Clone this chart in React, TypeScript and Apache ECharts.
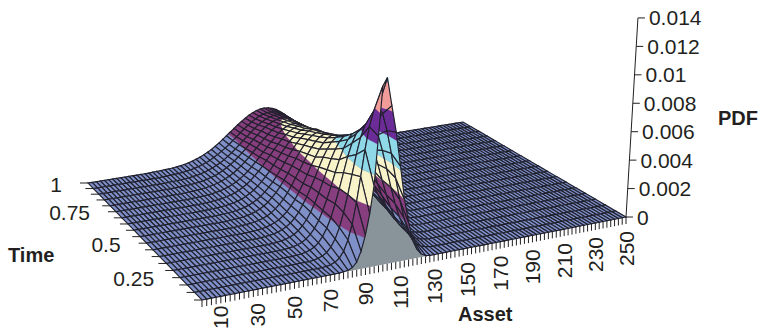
import React, { useEffect, useRef } from "react";
import * as echarts from "echarts";

// Data
const assetStep = 2.5;
const assetCount = 101; // 0 .. 250
const rowTimes = [0.1, 0.15, 0.2, 0.25, 0.3, 0.35, 0.4, 0.45, 0.5, 0.55, 0.6, 0.65, 0.7, 0.75, 0.8, 0.85, 0.9, 0.95, 1];
const pdfUnit = 1e-5;
// index of the first non-zero asset in each time row
const rowStarts = [31, 29, 28, 26, 25, 24, 23, 22, 21, 21, 20, 19, 19, 18, 18, 17, 17, 17, 16];
const rowValues = [
  [3, 8, 20, 50, 115, 215, 350, 530, 850, 1180, 1230, 1040, 860, 630, 400, 240, 120, 55, 20, 5],
  [3, 8, 19, 41, 81, 150, 249, 388, 554, 729, 877, 978, 1002, 951, 833, 676, 506, 356, 229, 136, 74, 38, 18, 8, 3],
  [4, 10, 20, 38, 69, 117, 188, 283, 398, 528, 657, 767, 843, 870, 843, 767, 657, 528, 398, 283, 188, 117, 69, 38, 20, 10, 4],
  [2, 5, 10, 19, 34, 58, 95, 146, 213, 300, 397, 500, 605, 690, 750, 777, 764, 710, 622, 519, 406, 300, 209, 138, 86, 51, 29, 15, 7, 3],
  [2, 5, 9, 16, 27, 44, 70, 106, 153, 217, 289, 371, 461, 544, 617, 672, 705, 707, 675, 611, 528, 431, 333, 249, 173, 114, 72, 44, 25, 13, 7, 3],
  [2, 4, 8, 14, 23, 36, 56, 84, 121, 168, 223, 290, 363, 439, 511, 572, 621, 651, 657, 638, 592, 526, 449, 367, 286, 214, 153, 104, 69, 43, 26, 15, 8, 4, 2],
  [2, 4, 7, 12, 19, 30, 45, 66, 93, 130, 177, 228, 288, 350, 418, 482, 534, 578, 605, 615, 603, 568, 514, 450, 377, 303, 234, 173, 124, 87, 57, 36, 22, 13, 7, 4, 2],
  [2, 3, 5, 9, 14, 23, 34, 49, 71, 97, 132, 171, 220, 272, 330, 390, 444, 495, 534, 564, 578, 576, 554, 514, 459, 397, 330, 265, 206, 153, 111, 78, 52, 33, 21, 13, 8, 4, 2],
  [2, 3, 5, 8, 12, 18, 27, 39, 56, 78, 105, 136, 176, 221, 271, 320, 373, 425, 468, 506, 533, 548, 549, 533, 502, 454, 399, 340, 281, 224, 173, 130, 94, 64, 44, 29, 18, 11, 7, 4, 2],
  [2, 4, 6, 10, 15, 23, 31, 45, 61, 83, 110, 141, 178, 219, 264, 312, 359, 405, 445, 480, 505, 520, 524, 512, 487, 448, 401, 349, 292, 240, 191, 146, 110, 80, 56, 38, 25, 16, 10, 6, 4, 2],
  [2, 3, 5, 7, 11, 17, 24, 33, 47, 63, 82, 108, 138, 170, 210, 250, 295, 338, 379, 419, 452, 477, 495, 502, 498, 480, 449, 412, 364, 314, 265, 216, 170, 133, 99, 72, 52, 36, 24, 16, 10, 6, 4, 2],
  [2, 3, 4, 6, 9, 13, 19, 26, 36, 49, 66, 85, 110, 137, 168, 203, 241, 281, 320, 357, 392, 422, 447, 464, 471, 470, 457, 432, 399, 359, 315, 270, 221, 179, 142, 110, 82, 60, 43, 29, 20, 13, 9, 5, 3, 2],
  [2, 3, 5, 8, 11, 15, 21, 29, 39, 52, 69, 87, 110, 138, 167, 199, 236, 271, 307, 342, 374, 402, 424, 441, 450, 450, 440, 420, 392, 355, 317, 274, 230, 191, 153, 120, 92, 69, 50, 36, 25, 17, 12, 7, 5, 3, 2],
  [2, 3, 4, 6, 8, 11, 16, 22, 30, 40, 53, 68, 86, 106, 131, 159, 190, 222, 253, 286, 320, 351, 377, 400, 416, 426, 430, 425, 411, 389, 357, 322, 285, 245, 207, 171, 135, 106, 82, 62, 46, 33, 23, 15, 11, 7, 5, 3, 2],
  [2, 3, 5, 7, 9, 12, 18, 24, 32, 42, 55, 69, 86, 108, 130, 156, 184, 215, 245, 275, 306, 333, 360, 380, 397, 407, 412, 409, 399, 379, 352, 320, 287, 250, 212, 179, 146, 116, 91, 70, 52, 38, 28, 19, 13, 9, 6, 4, 3, 2],
  [2, 3, 4, 5, 7, 10, 14, 19, 25, 34, 43, 55, 70, 87, 107, 128, 153, 179, 206, 237, 266, 294, 320, 344, 363, 379, 389, 395, 393, 385, 369, 347, 318, 286, 254, 218, 185, 154, 126, 99, 79, 60, 44, 33, 23, 17, 11, 7, 6, 4, 3, 2],
  [2, 3, 4, 6, 7, 10, 15, 19, 26, 33, 43, 55, 69, 83, 102, 123, 146, 170, 197, 223, 249, 276, 301, 325, 344, 360, 372, 378, 380, 375, 362, 345, 321, 294, 262, 231, 198, 168, 139, 112, 91, 71, 55, 41, 31, 21, 16, 10, 8, 6, 4, 3, 2],
  [2, 3, 5, 6, 8, 11, 16, 20, 27, 35, 44, 55, 68, 85, 102, 122, 142, 165, 190, 214, 241, 265, 289, 310, 329, 345, 356, 363, 365, 361, 352, 335, 315, 289, 262, 233, 203, 174, 147, 120, 98, 78, 61, 46, 35, 26, 19, 14, 9, 6, 5, 3, 2],
  [2, 3, 4, 6, 7, 9, 13, 17, 22, 29, 37, 47, 58, 71, 86, 102, 122, 142, 166, 189, 213, 236, 260, 282, 302, 321, 336, 348, 355, 358, 356, 348, 335, 316, 294, 268, 241, 210, 182, 155, 131, 108, 87, 69, 53, 41, 31, 23, 17, 12, 8, 6, 4, 3, 2],
];
const assetLabels = [10, 30, 50, 70, 90, 110, 130, 150, 170, 190, 210, 230, 250];
const timeLabels = ["0.25", "0.5", "0.75", "1"];
const pdfLabels = ["0", "0.002", "0.004", "0.006", "0.008", "0.01", "0.012", "0.014"];
const bandEdges = [0, 0.002, 0.004, 0.006, 0.008, 0.01, 0.012, 0.014];
const bandColors = ["#7f90c9", "#873e7e", "#f8f3c8", "#8fd8e8", "#6c2c98", "#f19c98", "#0f80a8"];

const W = 760;
const H = 330;
const FONT = "'Liberation Sans', Arial, sans-serif";
const INK = "#231f20";
const LINE = "#20202c";
const minAsset = 0;
const maxAsset = 250;
const minTime = 0.1;
const maxTime = 1;

// View: the four ground corners on the page, and the height scale.
const P00 = [202, 300], P10 = [626, 217], P01 = [88, 183], P11 = [463, 122];
const den = (P10[0] - P11[0]) * (P01[1] - P11[1]) - (P01[0] - P11[0]) * (P10[1] - P11[1]);
const sx = P00[0] - P10[0] + P11[0] - P01[0];
const sy = P00[1] - P10[1] + P11[1] - P01[1];
const G = (sx * (P01[1] - P11[1]) - (P01[0] - P11[0]) * sy) / den;
const Hh = ((P10[0] - P11[0]) * sy - sx * (P10[1] - P11[1])) / den;
const zScale = 15860;
const tiltCentre = 380;
const tiltDepth = 4100;

function zAt(ai: number, ri: number): number {
  const j = ai - rowStarts[ri];
  const vals = rowValues[ri];
  return j >= 0 && j < vals.length ? vals[j] * pdfUnit : 0;
}

function projector(api: any) {
  return (asset: number, time: number, z: number): number[] => {
    const c = api.coord([asset, time]);
    const u = c[0] / W;
    const v = 1 - c[1] / H;
    const w = 1 + G * u + Hh * v;
    const a = P10[0] * (1 + G) - P00[0], b = P01[0] * (1 + Hh) - P00[0];
    const d = P10[1] * (1 + G) - P00[1], e = P01[1] * (1 + Hh) - P00[1];
    const x = (a * u + b * v + P00[0]) / w;
    const y = (d * u + e * v + P00[1]) / w;
    const h = (z * zScale) / w;
    return [x + ((x - tiltCentre) * h) / tiltDepth, y - h];
  };
}

type P3 = number[];
function clipZ(poly: P3[], limit: number, keepAbove: boolean): P3[] {
  const out: P3[] = [];
  const inside = (p: P3) => (keepAbove ? p[2] >= limit : p[2] <= limit);
  for (let i = 0; i < poly.length; i++) {
    const p = poly[i];
    const q = poly[(i + 1) % poly.length];
    const ip = inside(p), iq = inside(q);
    if (ip) out.push(p);
    if (ip !== iq) {
      const s = (limit - p[2]) / (q[2] - p[2]);
      out.push([p[0] + s * (q[0] - p[0]), p[1] + s * (q[1] - p[1]), limit]);
    }
  }
  return out;
}

function renderCell(_: any, api: any) {
  const ai = api.value(0), ri = api.value(1);
  const proj = projector(api);
  const a0 = ai * assetStep, a1 = (ai + 1) * assetStep;
  const t0 = rowTimes[ri], t1 = rowTimes[ri + 1];
  const quad: P3[] = [
    [a0, t0, zAt(ai, ri)],
    [a1, t0, zAt(ai + 1, ri)],
    [a1, t1, zAt(ai + 1, ri + 1)],
    [a0, t1, zAt(ai, ri + 1)],
  ];
  const children: any[] = [];
  for (let b = 0; b < bandColors.length; b++) {
    const lo = Math.max(...quad.map((p) => p[2]));
    const hi = Math.min(...quad.map((p) => p[2]));
    if (lo < bandEdges[b] || hi > bandEdges[b + 1]) continue;
    let poly = clipZ(quad, bandEdges[b], true);
    if (poly.length) poly = clipZ(poly, bandEdges[b + 1], false);
    if (poly.length < 3) continue;
    children.push({
      type: "polygon",
      shape: { points: poly.map((p) => proj(p[0], p[1], p[2])) },
      style: { fill: bandColors[b], stroke: bandColors[b], lineWidth: 0.3 },
    });
  }
  children.push({
    type: "polygon",
    shape: { points: quad.map((p) => proj(p[0], p[1], p[2])) },
    style: { fill: "none", stroke: LINE, lineWidth: 1.15 },
  });
  return { type: "group", children };
}

function renderFloor(_: any, api: any) {
  const proj = projector(api);
  return {
    type: "polygon",
    shape: {
      points: [
        proj(minAsset, minTime, 0),
        proj(maxAsset, minTime, 0),
        proj(maxAsset, maxTime, 0),
        proj(minAsset, maxTime, 0),
      ],
    },
    style: { fill: "#89939a" },
  };
}

function tick(from: number[], dx: number, dy: number) {
  return {
    type: "line",
    shape: { x1: from[0], y1: from[1], x2: from[0] + dx, y2: from[1] + dy },
    style: { stroke: INK, lineWidth: 1 },
  };
}

function label(text: string, x: number, y: number, align: string, rotation = 0) {
  return {
    type: "text",
    x,
    y,
    rotation,
    style: { text, x: 0, y: 0, align, verticalAlign: "middle", fill: INK, font: `21px ${FONT}` },
  };
}

function renderAssetTick(_: any, api: any) {
  const p = projector(api)(api.value(0), minTime, 0);
  return tick(p, 0, 7);
}
function renderAssetLabel(_: any, api: any) {
  const a = api.value(0);
  const p = projector(api)(a, minTime, 0);
  const text = String(a);
  // the lowest label has to stay inside the page
  const top = Math.min(p[1] + 14, H - 1 - text.length * 11.7);
  return label(text, p[0], top, "right", Math.PI / 2);
}
function renderTimeTick(_: any, api: any) {
  const p = projector(api)(minAsset, api.value(0), 0);
  return tick(p, -8, 0);
}
function renderTimeLabel(_: any, api: any) {
  const t = api.value(0);
  const p = projector(api)(minAsset, t, 0);
  return label(timeLabels.find((s) => Number(s) === t) as string, p[0] - 26, p[1] + 1, "right");
}
function renderPdfTick(_: any, api: any) {
  const z = api.value(0);
  const p = projector(api)(maxAsset, minTime, z);
  return {
    type: "group",
    children: [tick(p, 7, 0), label(pdfLabels.find((s) => Number(s) === z) as string, p[0] + 11, p[1], "left")],
  };
}
function renderPdfAxis(_: any, api: any) {
  const proj = projector(api);
  const a = proj(maxAsset, minTime, 0);
  const b = proj(maxAsset, minTime, api.value(0));
  return {
    type: "line",
    shape: { x1: a[0], y1: a[1], x2: b[0], y2: b[1] },
    style: { stroke: INK, lineWidth: 1 },
  };
}

function custom(renderItem: any, data: any[]) {
  return { type: "custom", coordinateSystem: "cartesian2d", renderItem, data, silent: true, animation: false, progressive: 0, clip: false };
}

export default function App() {
  const ref = useRef<HTMLDivElement>(null);
  useEffect(() => {
    document.body.style.margin = "0";
    const chart = echarts.init(ref.current as HTMLDivElement, undefined, { renderer: "svg" });
    const cells: number[][] = [];
    for (let r = rowTimes.length - 2; r >= 0; r--) {
      for (let a = assetCount - 2; a >= 0; a--) cells.push([a, r]);
    }
    const assetGrid: number[][] = [];
    for (let a = 0; a < assetCount; a++) assetGrid.push([a * assetStep]);
    chart.setOption({
      animation: false,
      grid: { left: 0, right: 0, top: 0, bottom: 0 },
      xAxis: { type: "value", min: minAsset, max: maxAsset, show: false },
      yAxis: { type: "value", min: minTime, max: maxTime, show: false },
      series: [
        custom(renderFloor, [[0]]),
        custom(renderCell, cells),
        custom(renderAssetTick, assetGrid),
        custom(renderTimeTick, rowTimes.map((t) => [t])),
        custom(renderPdfAxis, [[bandEdges[bandEdges.length - 1]]]),
        custom(renderPdfTick, pdfLabels.map((s) => [Number(s)])),
        custom(renderAssetLabel, assetLabels.map((a) => [a])),
        custom(renderTimeLabel, timeLabels.map((s) => [Number(s)])),
      ],
      graphic: [
        { type: "text", x: 8, y: 255, style: { text: "Time", font: `bold 20px ${FONT}`, fill: INK, verticalAlign: "middle" } },
        { type: "text", x: 458, y: 314, style: { text: "Asset", font: `bold 20px ${FONT}`, fill: INK, verticalAlign: "middle" } },
        { type: "text", x: 718, y: 118, style: { text: "PDF", font: `bold 20px ${FONT}`, fill: INK, verticalAlign: "middle" } },
      ],
    });
    return () => chart.dispose();
  }, []);
  return <div ref={ref} style={{ width: W, height: H }} />;
}
